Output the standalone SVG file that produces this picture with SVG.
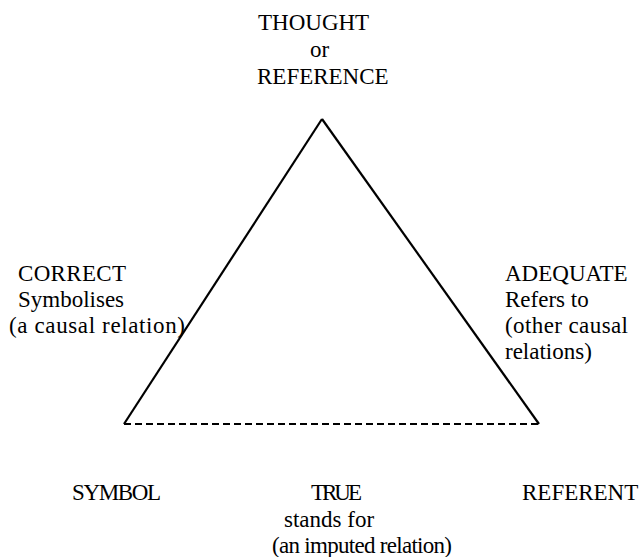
<svg xmlns="http://www.w3.org/2000/svg" width="642" height="557" viewBox="0 0 642 557">
<style>
text{font-family:'Liberation Serif','Times New Roman','DejaVu Serif',serif;font-size:23px;fill:#000}
.solid{stroke:#000;stroke-width:2.2;fill:none}
.dash{stroke:#000;stroke-width:2;fill:none;stroke-dasharray:7,4}
</style>
<rect width="642" height="557" fill="#fff"/>
<g id="connectors">
<line class="solid" x1="124" y1="424" x2="322" y2="119"/>
<line class="solid" x1="322" y1="119" x2="539" y2="424"/>
<line class="dash" x1="124" y1="424" x2="539" y2="424"/>
</g>
<g id="thought">
<text x="258" y="30">THOUGHT</text>
<text x="310" y="57">or</text>
<text x="257" y="84">REFERENCE</text>
</g>
<g id="correct">
<text x="18" y="281" textLength="108">CORRECT</text>
<text x="18" y="307">Symbolises</text>
<text x="9" y="333" textLength="176">(a causal relation)</text>
</g>
<g id="adequate">
<text x="505" y="281">ADEQUATE</text>
<text x="505" y="307">Refers to</text>
<text x="505" y="333" textLength="123">(other causal</text>
<text x="505" y="359">relations)</text>
</g>
<g id="symbol"><text x="72" y="500" textLength="89">SYMBOL</text></g>
<g id="referent"><text x="522" y="500">REFERENT</text></g>
<g id="true">
<text x="311" y="500" textLength="51">TRUE</text>
<text x="284" y="527">stands for</text>
<text x="272" y="553" textLength="180">(an imputed relation)</text>
</g>
</svg>
